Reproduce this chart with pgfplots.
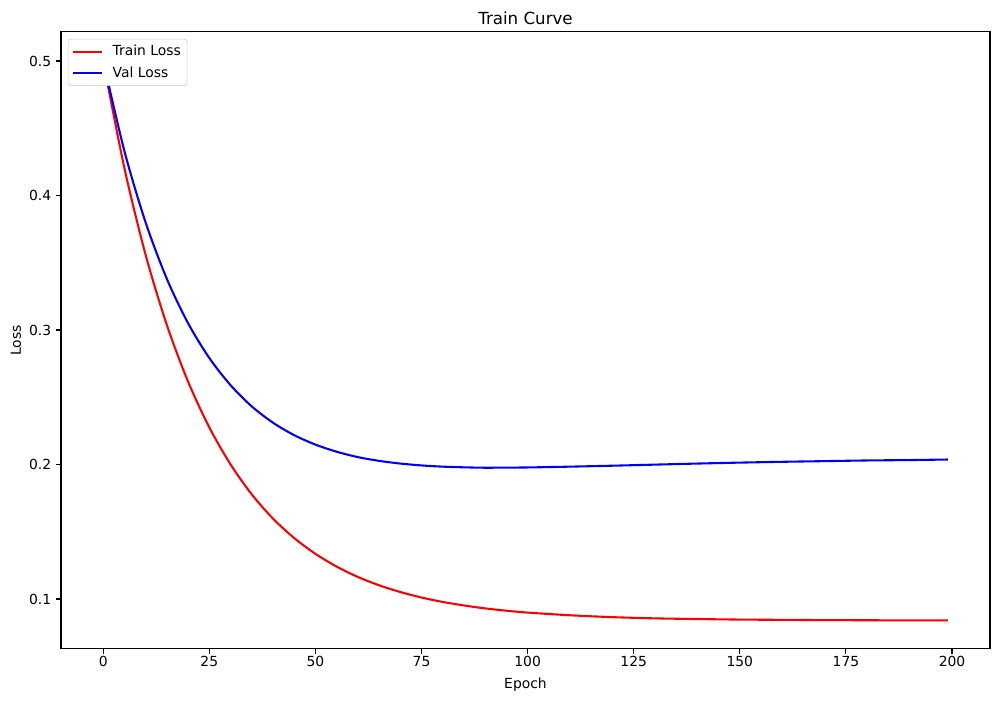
\documentclass[border=0pt]{standalone}
\usepackage{fontspec}
\setmainfont{DejaVu Sans}
\usepackage{pgfplots}
\pgfplotsset{compat=1.18}

% loss values, every 5-10 epochs
\begin{document}
\begin{tikzpicture}
\begin{axis}[
    scale only axis, width=668.9pt, height=444.2pt,
    xmin=-9.95, xmax=208.95, ymin=0.0629, ymax=0.5216,
    xtick={0,25,...,200}, ytick={0.1,0.2,0.3,0.4,0.5},
    tick align=outside, xtick pos=bottom, ytick pos=left,
    major tick length=3.5pt,
    tick style={black, line width=0.8pt},
    axis line style={line width=0.8pt},
    ticklabel style={font=\fontsize{10}{12}\selectfont},
    xticklabel style={yshift=1.5pt},
    /pgf/number format/assume math mode=true,
    yticklabel style={/pgf/number format/fixed, /pgf/number format/precision=1, /pgf/number format/fixed zerofill},
    xlabel={Epoch}, ylabel={Loss},
    label style={font=\fontsize{10}{12}\selectfont},
    xlabel style={at={(rel axis cs:0.5,0)}, anchor=center, yshift=-26pt},
    ylabel style={at={(rel axis cs:0,0.5)}, anchor=center, yshift=32.4pt},
    title={Train Curve},
    title style={font=\fontsize{12}{14}\selectfont, at={(rel axis cs:0.5,1)}, anchor=center, yshift=3.5pt},
    legend style={at={(rel axis cs:0,1)}, anchor=north west, xshift=5pt, yshift=-5pt,
        draw=black!20, rounded corners=2pt, font=\fontsize{10}{12}\selectfont,
        inner sep=2.5pt, row sep=2.2pt},
    legend cell align=left,
    legend image code/.code={\draw[#1] (0pt,0pt) -- (21pt,0pt); \path (26pt,0pt);},
]
\addplot[red, line width=1.5pt, smooth] coordinates {
(0,0.5000) (5,0.4203) (10,0.3558) (15,0.3037) (20,0.2616) (25,0.2276)
(30,0.2001) (35,0.1778) (40,0.1598) (45,0.1453) (50,0.1336) (55,0.1241)
(60,0.1164) (65,0.1102) (70,0.1052) (75,0.1011) (80,0.0978) (85,0.0952)
(90,0.0930) (95,0.0913) (100,0.0899) (110,0.0879) (120,0.0865) (130,0.0856)
(140,0.0851) (150,0.0847) (160,0.0845) (170,0.0843) (180,0.0842) (190,0.0841)
(199,0.0841)
};
\addlegendentry{Train Loss}
\addplot[blue, line width=1.5pt, smooth] coordinates {
(0,0.5000) (5,0.4330) (10,0.3799) (15,0.3380) (20,0.3050) (25,0.2792)
(30,0.2590) (35,0.2432) (40,0.2311) (45,0.2218) (50,0.2148) (55,0.2095)
(60,0.2055) (65,0.2027) (70,0.2007) (75,0.1993) (80,0.1984) (85,0.1979)
(90,0.1976) (95,0.1977) (100,0.1978) (110,0.1984) (120,0.1991) (130,0.1999)
(140,0.2007) (150,0.2014) (160,0.2020) (170,0.2025) (180,0.2030) (190,0.2033)
(199,0.2037)
};
\addlegendentry{Val Loss}
\end{axis}
\pgfresetboundingbox
\path[use as bounding box] ([xshift=-43.9pt,yshift=-37.4pt]current axis.south west)
    rectangle ([xshift=7.9pt,yshift=23pt]current axis.north east);
\end{tikzpicture}
\end{document}
